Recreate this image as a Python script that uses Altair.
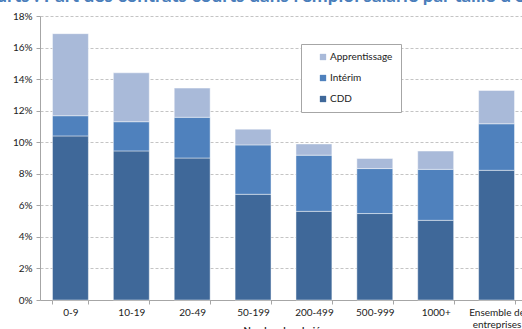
import altair as alt
import pandas as pd

categories = ["0-9", "10-19", "20-49", "50-199", "200-499", "500-999", "1000+", "Ensemble de|entreprises"]
cdd = [10.40, 9.45, 9.00, 6.70, 5.62, 5.48, 5.05, 8.22]
interim = [1.28, 1.85, 2.58, 3.13, 3.56, 2.85, 3.23, 2.95]
apprentissage = [5.20, 3.10, 1.85, 1.00, 0.71, 0.64, 1.16, 2.11]
series = ["Apprentissage", "Intérim", "CDD"]
colors = ["#A9BAD9", "#4F81BD", "#3F6899"]
y_ticks = [0, 2, 4, 6, 8, 10, 12, 14, 16, 18]

rows = []
for i, c in enumerate(categories):
    rows.append({"cat": c, "serie": "CDD", "val": cdd[i], "ord": 0})
    rows.append({"cat": c, "serie": "Intérim", "val": interim[i], "ord": 1})
    rows.append({"cat": c, "serie": "Apprentissage", "val": apprentissage[i], "ord": 2})
df = pd.DataFrame(rows)

FONT = "Lato"
AXIS_COL = "#a6a6a6"

chart = alt.Chart(df).mark_bar(
    stroke="#ffffff", strokeWidth=1, strokeOpacity=0.45
).encode(
    x=alt.X("cat:N", sort=categories, title="Nombre de salariés",
            scale=alt.Scale(paddingInner=0.41, paddingOuter=0.205),
            axis=alt.Axis(labelAngle=0, tickBand="extent", tickSize=4,
                          labelExpr="split(datum.label, '|')",
                          labelFont=FONT, labelFontSize=10, labelColor="#222222",
                          labelPadding=3, labelLineHeight=12,
                          titleFont=FONT, titleFontSize=9.5, titleFontWeight="bold",
                          titleColor="#222222", titleY=25, titleBaseline="top",
                          domainColor=AXIS_COL, tickColor=AXIS_COL, grid=False)),
    y=alt.Y("val:Q", stack="zero", title=None,
            scale=alt.Scale(domain=[0, 18], nice=False),
            axis=alt.Axis(values=y_ticks, labelExpr="datum.value + '%'",
                          labelFont=FONT, labelFontSize=10, labelColor="#222222",
                          tickSize=4, labelPadding=4,
                          domainColor=AXIS_COL, tickColor=AXIS_COL,
                          gridColor="#c4c4c4", gridDash=[3, 2], gridWidth=1)),
    color=alt.Color("serie:N",
                    scale=alt.Scale(domain=series, range=colors),
                    legend=alt.Legend(title=None, orient="none", legendX=261, legendY=28,
                                      symbolType="square", symbolSize=40,
                                      symbolStrokeWidth=0, symbolOffset=9,
                                      labelFont=FONT, labelFontSize=10, labelColor="#222222",
                                      labelOffset=2, rowPadding=11,
                                      padding=8, fillColor="#ffffff",
                                      strokeColor="#a6a6a6")),
    order=alt.Order("ord:Q"),
).properties(
    width=487, height=284,
    padding={"left": 40, "top": 16, "right": -5, "bottom": 29},
    autosize=alt.AutoSizeParams(type="none"),
    title=alt.TitleParams(
        "Contrats courts : Part des contrats courts dans l'emploi salarié par taille d'entreprise",
        anchor="start", frame="group", dx=-141, dy=10, offset=0, baseline="alphabetic",
        font=FONT, fontSize=19, fontWeight="bold", color="#4A7EBB"),
).configure_view(stroke=None)

chart.save("out.html", embed_options={"renderer": "svg", "actions": False})
